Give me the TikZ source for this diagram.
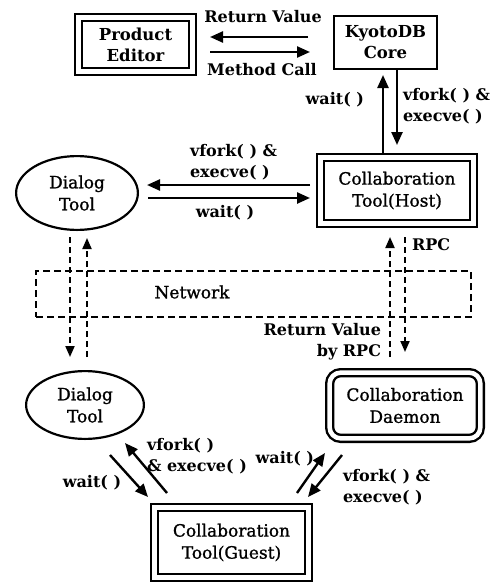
\documentclass[tikz,border=0pt]{standalone}
\usepackage{fontspec}
\setmainfont{DejaVu Serif}
\newfontfamily\nodefnt{DejaVu Serif}[FakeBold=1.2]
\usetikzlibrary{arrows.meta,calc,shapes.geometric}
\begin{document}
\begin{tikzpicture}[x=1pt,y=-1pt,
  every node/.style={outer sep=0pt, inner sep=0pt},
  nodefont/.style={font=\nodefnt\fontsize{17}{22}\selectfont, align=center},
  boldfont/.style={font=\fontsize{16.5}{21}\selectfont\bfseries, align=center},
  dbox/.style={draw, double, double distance=4.5pt, line width=2.4pt, nodefont},
  sbox/.style={draw, line width=2.4pt, boldfont},
  ell/.style={draw, ellipse, line width=2.2pt, nodefont},
  netbox/.style={draw, line width=2pt, dash pattern=on 7pt off 4pt},
  lbl/.style={font=\fontsize{16}{21}\selectfont\bfseries},
  arr/.style={line width=2.4pt, -{Triangle[length=13pt,width=11pt]}},
  darr/.style={line width=2pt, dash pattern=on 6pt off 4pt, -{Triangle[length=11pt,width=9pt]}}
]
\useasboundingbox (0,0) rectangle (502,584);

% nodes
\node[dbox, boldfont, minimum width=113.7pt, minimum height=53.7pt] (pe) at (135.5,44.5) {Product\\Editor};
\node[sbox, minimum width=102.6pt, minimum height=52.6pt] (kc) at (385.5,42.5) {KyotoDB\\Core};
\node[dbox, minimum width=152.7pt, minimum height=65.7pt] (host) at (397,190.5) {Collaboration\\Tool(Host)};
\node[ell, minimum width=121.8pt, minimum height=73.8pt] (dt1) at (77,193) {Dialog\\Tool};
\node[netbox, minimum width=435pt, minimum height=46pt] (net) at (253.5,294) {};
\node[nodefont] (netlbl) at (192,292) {Network};
\node[ell, minimum width=117.8pt, minimum height=67.8pt] (dt2) at (85,405) {Dialog\\Tool};
\node[dbox, rounded corners=11pt, minimum width=150.7pt, minimum height=65.7pt] (dmn) at (405,405.5) {Collaboration\\Daemon};
\node[dbox, minimum width=153.7pt, minimum height=69.7pt] (guest) at (231.5,542.5) {Collaboration\\Tool(Guest)};

% labels
\node[lbl] (rv) at (263,17) {Return Value};
\node[lbl] (mc) at (262,70) {Method Call};
\node[lbl, anchor=east] (w1) at (364,100) {wait( )};
\node[lbl, anchor=west, align=left] (vf1) at (403,106) {vfork( ) \&\\execve( )};
\node[lbl, anchor=west, align=left] (vf2) at (190,162) {vfork( ) \&\\execve( )};
\node[lbl] (w2) at (225,213) {wait( )};
\node[lbl, anchor=west] (rpc) at (412,245) {RPC};
\node[lbl, anchor=east, align=right] (rvr) at (381,342) {Return Value\\by RPC};
\node[lbl, anchor=west, align=left] (vf3) at (147,456) {vfork( )\\\& execve( )};
\node[lbl] (w3) at (92,483) {wait( )};
\node[lbl, anchor=east] (w4) at (314,459) {wait( )};
\node[lbl, anchor=west, align=left] (vf4) at (343,487) {vfork( ) \&\\execve( )};

% top arrows
\draw[arr, shorten <=26.2pt, shorten >=17.65pt] (kc.west |- 0,37) -- (pe.east |- 0,37);
\draw[arr, shorten <=17.65pt, shorten >=24.2pt] (pe.east |- 0,52) -- (kc.west |- 0,52);
\draw[arr, shorten <=4.65pt, shorten >=6.2pt] (host.north -| 383,0) -- (kc.south -| 383,0);
\draw[arr, shorten <=1.2pt, shorten >=12.65pt] (kc.south -| 397,0) -- (host.north -| 397,0);
\draw[arr, shorten <=10.65pt, shorten >=9.1pt] (host.west |- 0,185) -- (dt1.east |- 0,185);
\draw[arr, shorten <=10.1pt, shorten >=10.65pt] (dt1.east |- 0,198) -- (host.west |- 0,198);

% network arrows
\draw[darr, shorten <=7.1pt, shorten >=14.1pt] (dt1.south -| 70,0) -- (dt2.north -| 70,0);
\draw[darr, shorten <=14.1pt, shorten >=8.1pt] (dt2.north -| 87,0) -- (dt1.south -| 87,0);
\draw[darr, shorten <=15.65pt, shorten >=13.65pt] (dmn.north -| 390,0) -- (host.south -| 390,0);
\draw[darr, shorten <=13.65pt, shorten >=20.65pt] (host.south -| 405,0) -- (dmn.north -| 405,0);

% lower arrows
\draw[arr] ($(dt2.south)+(25,16.1)$) -- ($(guest.north west)+(-6.65,-10.65)$);
\draw[arr] ($(guest.north west)+(12.35,-14.65)$) -- ($(dt2.south)+(40,4.1)$);
\draw[arr] ($(guest.north east)+(-11.35,-14.65)$) -- ($(dmn.south west)+(-4.65,14.65)$);
\draw[arr] ($(dmn.south west)+(12.35,16.65)$) -- ($(guest.north east)+(-0.35,-10.65)$);
\end{tikzpicture}
\end{document}
